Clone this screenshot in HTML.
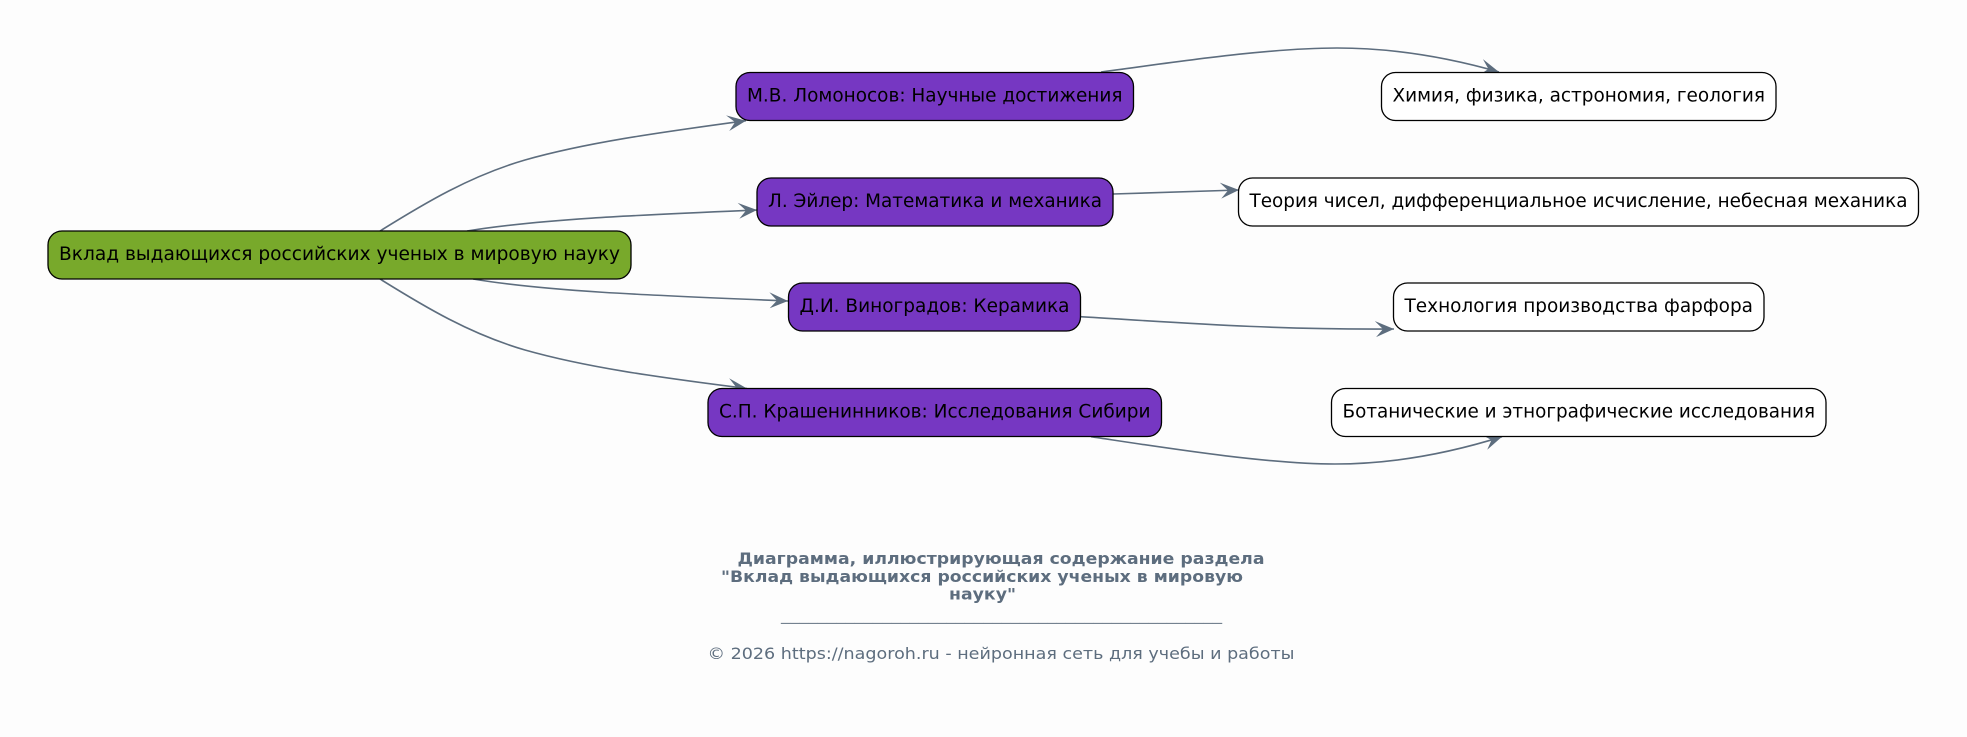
<!DOCTYPE html>
<html lang="ru">
<head>
<meta charset="utf-8">
<title>Вклад выдающихся российских ученых</title>
<style>
html,body{margin:0;padding:0;background:#fdfdfd;width:1967px;height:737px;overflow:hidden}
svg{display:block}
text{font-family:"DejaVu Sans","Liberation Sans",sans-serif}
.n{fill:#000;font-size:18.4px}
.t{fill:#5d6d7e;font-size:16px;font-weight:bold}
.f{fill:#5d6d7e;font-size:16px}
.e{fill:none;stroke:#5d6d7e;stroke-width:1.6}
.b{stroke:#000;stroke-width:1.3}
</style>
</head>
<body>
<svg width="1967" height="737" viewBox="0 0 1967 737" xmlns="http://www.w3.org/2000/svg">
<defs>
<marker id="a" markerUnits="userSpaceOnUse" markerWidth="24" markerHeight="20" refX="19" refY="9" orient="auto">
<path d="M0,1 L19,9 L1,17 L8,9 Z" fill="#5d6d7e"/>
</marker>
</defs>
<rect width="1967" height="737" fill="#fdfdfd"/>

<g class="edges">
<path class="e" marker-end="url(#a)" d="M380,231 C425,203 470,176 525,160 C585,143 655,133 746,120.7"/>
<path class="e" marker-end="url(#a)" d="M467,231 C540,219 640,215 757,210"/>
<path class="e" marker-end="url(#a)" d="M473,279 C545,291 640,295 788,301"/>
<path class="e" marker-end="url(#a)" d="M380,279 C425,307 470,334 525,350 C585,367 655,377 747,388.5"/>
<path class="e" marker-end="url(#a)" d="M1101,72 C1170,63 1265,48 1337,48 C1395,48 1450,58 1499,72"/>
<path class="e" marker-end="url(#a)" d="M1113,194 L1239,190"/>
<path class="e" marker-end="url(#a)" d="M1080.4,316.7 C1170,322 1270,330 1394,329"/>
<path class="e" marker-end="url(#a)" d="M1091,436.7 C1160,447 1265,464 1335,464 C1395,464 1450,453 1502,436.7"/>
</g>

<rect class="b" x="48" y="231" width="583" height="48" rx="14" fill="#78a92b"/>
<text class="n" x="59" y="260" textLength="561" lengthAdjust="spacingAndGlyphs">Вклад выдающихся российских ученых в мировую науку</text>

<rect class="b" x="736" y="72.5" width="397.5" height="48" rx="14" fill="#7637c2"/>
<text class="n" x="747" y="101.5" textLength="375.5" lengthAdjust="spacingAndGlyphs">М.В. Ломоносов: Научные достижения</text>
<rect class="b" x="757" y="178" width="356" height="48" rx="14" fill="#7637c2"/>
<text class="n" x="768" y="207" textLength="334" lengthAdjust="spacingAndGlyphs">Л. Эйлер: Математика и механика</text>
<rect class="b" x="788.5" y="283" width="292" height="48" rx="14" fill="#7637c2"/>
<text class="n" x="799.5" y="312" textLength="270" lengthAdjust="spacingAndGlyphs">Д.И. Виноградов: Керамика</text>
<rect class="b" x="708" y="388.5" width="453.5" height="48" rx="14" fill="#7637c2"/>
<text class="n" x="719" y="417.5" textLength="431.5" lengthAdjust="spacingAndGlyphs">С.П. Крашенинников: Исследования Сибири</text>

<rect class="b" x="1381.5" y="72.5" width="394.5" height="48" rx="14" fill="#fff"/>
<text class="n" x="1392.5" y="101.5" textLength="372.5" lengthAdjust="spacingAndGlyphs">Химия, физика, астрономия, геология</text>
<rect class="b" x="1238.5" y="178" width="680" height="48" rx="14" fill="#fff"/>
<text class="n" x="1249.5" y="207" textLength="658" lengthAdjust="spacingAndGlyphs">Теория чисел, дифференциальное исчисление, небесная механика</text>
<rect class="b" x="1393.5" y="283" width="370.5" height="48" rx="14" fill="#fff"/>
<text class="n" x="1404.5" y="312" textLength="348.5" lengthAdjust="spacingAndGlyphs">Технология производства фарфора</text>
<rect class="b" x="1331.5" y="388.5" width="494.5" height="48" rx="14" fill="#fff"/>
<text class="n" x="1342.5" y="417.5" textLength="472.5" lengthAdjust="spacingAndGlyphs">Ботанические и этнографические исследования</text>

<text class="t" x="737.5" y="564" textLength="527" lengthAdjust="spacingAndGlyphs">Диаграмма, иллюстрирующая содержание раздела</text>
<text class="t" x="721" y="582" textLength="522" lengthAdjust="spacingAndGlyphs">"Вклад выдающихся российских ученых в мировую</text>
<text class="t" x="949" y="599.5" textLength="67" lengthAdjust="spacingAndGlyphs">науку"</text>
<text class="f" x="781" y="620" textLength="441" lengthAdjust="spacingAndGlyphs" opacity="0.85">________________________________________________</text>
<text class="f" x="707.5" y="659" textLength="587" lengthAdjust="spacingAndGlyphs">© 2026 https://nagoroh.ru - нейронная сеть для учебы и работы</text>
</svg>
</body>
</html>
